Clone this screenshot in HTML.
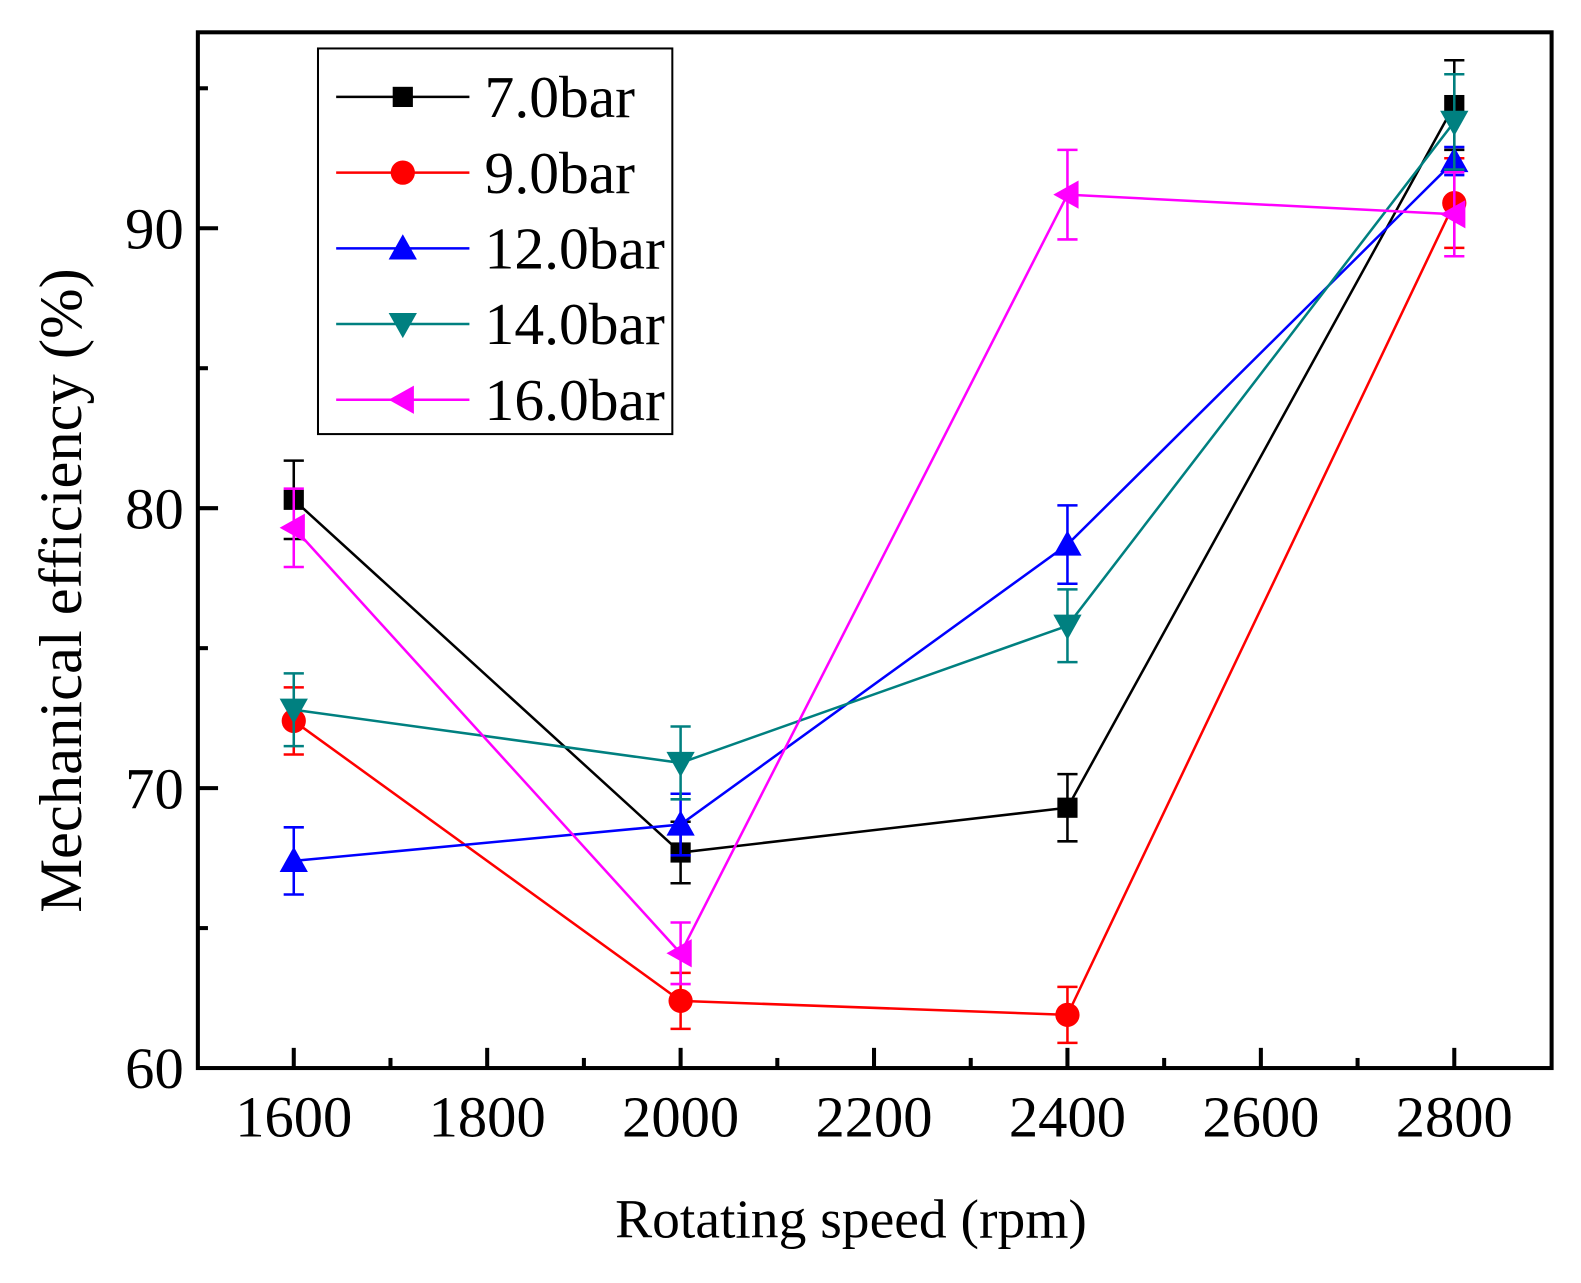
<!DOCTYPE html>
<html><head><meta charset="utf-8"><style>
body{margin:0;background:#fff;}
svg text{font-family:"Liberation Serif",serif;fill:#000;}
</style></head><body>
<svg id="chart" width="1581" height="1278" xmlns="http://www.w3.org/2000/svg"><g id="root" transform="scale(1.0095)"></g></svg>
<script>
const categories=[1600,2000,2400,2800];
const seriesNames=["7.0bar","9.0bar","12.0bar","14.0bar","16.0bar"];
const s7=[80.3,67.7,69.3,94.4];
const s9=[72.4,62.4,61.9,90.9];
const s12=[67.4,68.7,78.7,92.4];
const s14=[72.8,70.9,75.8,93.8];
const s16=[79.3,64.1,91.2,90.5];
const e7=[1.4,1.1,1.2,1.6];
const e9=[1.2,1.0,1.0,1.6];
const e12=[1.2,1.1,1.4,0.5];
const e14=[1.3,1.3,1.3,1.7];
const e16=[1.4,1.1,1.6,1.5];
const yTicks=[60,70,80,90];
const xTicks=[1600,1800,2000,2200,2400,2600,2800];
const NS="http://www.w3.org/2000/svg";
const svg=document.getElementById('root');
const L=196,R=1537,T=32,B=1058;
const X=v=>291+(v-1600)*0.958;
const Y=v=>B-(v-60)*27.73;
function mk(tag,attrs,parent){const e=document.createElementNS(NS,tag);for(const k in attrs)e.setAttribute(k,attrs[k]);(parent||svg).appendChild(e);return e;}
const colors=["#000000","#ff0000","#0000ff","#008080","#ff00ff"];
const markers=["square","circle","up","down","left"];
const data=[s7,s9,s12,s14,s16];
const errs=[e7,e9,e12,e14,e16];
function marker(type,x,y,c,g){
  let el;
  if(type==="square")el=mk('rect',{x:x-10,y:y-10,width:20,height:20,fill:c},g);
  else if(type==="circle")el=mk('circle',{cx:x,cy:y,r:12,fill:c},g);
  else if(type==="up")el=mk('polygon',{points:`${x},${y-14} ${x-14},${y+11} ${x+14},${y+11}`,fill:c},g);
  else if(type==="down")el=mk('polygon',{points:`${x},${y+14} ${x-14},${y-11} ${x+14},${y-11}`,fill:c},g);
  else el=mk('polygon',{points:`${x-14},${y} ${x+11},${y-14} ${x+11},${y+14}`,fill:c},g);
  
  
}
for(let v=65;v<=95;v+=5){const big=v%10===0;const t=mk('line',{x1:L,x2:L+(big?20:10),y1:Y(v),y2:Y(v),stroke:'#000','stroke-width':4});
}
yTicks.forEach(v=>{const t=mk('text',{x:L-14,y:Y(v)+20,'font-size':58,'text-anchor':'end'});t.textContent=v;
});
for(let v=1600;v<=2800;v+=100){const big=v%200===0;const t=mk('line',{x1:X(v),x2:X(v),y1:B,y2:B-(big?20:10),stroke:'#000','stroke-width':4});
}
xTicks.forEach(v=>{const t=mk('text',{x:X(v),y:B+68,'font-size':58,'text-anchor':'middle'});t.textContent=v;
});
data.forEach((s,i)=>{
  const g=mk('g',{});
  
  
  const pl=mk('polyline',{points:s.map((v,j)=>X(categories[j])+','+Y(v)).join(' '),fill:'none',stroke:colors[i],'stroke-width':2.5},g);
  
  
  s.forEach((v,j)=>{
    const x=X(categories[j]),e=errs[i][j];
    const eb=mk('path',{d:`M${x},${Y(v-e)}V${Y(v+e)}M${x-10},${Y(v-e)}H${x+10}M${x-10},${Y(v+e)}H${x+10}`,stroke:colors[i],'stroke-width':2.5,fill:'none'},g);
    
    
    marker(markers[i],x,Y(v),colors[i],g);
  });
});
const fr=mk('rect',{x:L,y:T,width:R-L,height:B-T,fill:'none',stroke:'#000','stroke-width':4});

const lg=mk('g',{});

const lb=mk('rect',{x:315,y:48,width:351,height:382,fill:'#fff',stroke:'#000','stroke-width':2},lg);

seriesNames.forEach((n,i)=>{
  const y=96+i*75;
  const ge=mk('g',{},lg);
  
  mk('line',{x1:333,x2:465,y1:y,y2:y,stroke:colors[i],'stroke-width':2.5},ge);
  marker(markers[i],399,y,colors[i],ge);
  const t=mk('text',{x:480,y:y+20,'font-size':59},ge);t.textContent=n;
  
});
const xt=mk('text',{x:843,y:1226,'font-size':55,'text-anchor':'middle'});xt.textContent='Rotating speed (rpm)';

const yt=mk('text',{x:0,y:0,'font-size':60,'text-anchor':'middle',transform:'translate(80,585) rotate(-90)'});yt.textContent='Mechanical efficiency (%)';

</script>
</body></html>
